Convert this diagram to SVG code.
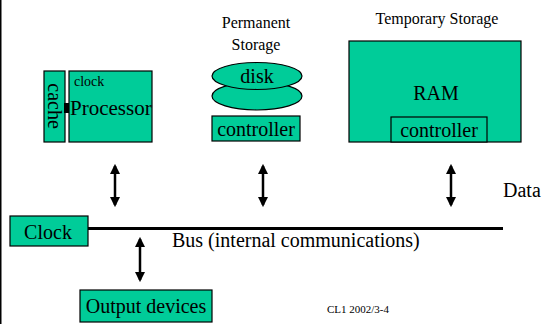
<svg xmlns="http://www.w3.org/2000/svg" width="544" height="324" viewBox="0 0 544 324">
<defs>
<style>
.box{fill:#00cc99;stroke:#000;stroke-width:1.2}
.t{font-family:"Liberation Serif","Times New Roman",serif;fill:#000}
.big{font-size:20px}
.sm{font-size:16px}
.conn{stroke:#000;stroke-width:2.5;fill:none}
</style>
<marker id="ah" viewBox="0 0 10 10" refX="8" refY="5" markerWidth="4.2" markerHeight="4.2" orient="auto-start-reverse">
<path d="M0,0 L10,5 L0,10 z" fill="#000"/>
</marker>
</defs>
<rect width="544" height="324" fill="#fff"/>
<line x1="0.75" y1="0" x2="0.75" y2="324" stroke="#000" stroke-width="1.5"/>
<g id="cache">
<rect class="box" x="44" y="71" width="21" height="71"/>
<text class="t big" transform="translate(48,106) rotate(90)" text-anchor="middle">cache</text>
</g>
<rect x="64" y="103" width="5" height="10" fill="#000"/>
<g id="processor">
<rect class="box" x="69" y="71" width="83" height="71"/>
<text class="t" x="74" y="86" font-size="14">clock</text>
<text class="t big" x="70" y="115" font-size="21px" style="font-size:21px">Processor</text>
</g>
<g id="permanent-storage">
<text class="t sm" x="256" y="28" text-anchor="middle">Permanent</text>
<text class="t sm" x="256" y="50" text-anchor="middle">Storage</text>
<ellipse class="box" cx="257" cy="96" rx="45" ry="14"/>
<ellipse class="box" cx="257" cy="76" rx="45" ry="13.5"/>
<text class="t big" x="257" y="83" text-anchor="middle">disk</text>
<rect class="box" x="212" y="116" width="88" height="25"/>
<text class="t big" x="256" y="136" text-anchor="middle">controller</text>
</g>
<g id="temporary-storage">
<text class="t sm" x="437" y="24" text-anchor="middle">Temporary Storage</text>
<rect class="box" x="349" y="41" width="172" height="101"/>
<text class="t big" x="436" y="100" text-anchor="middle">RAM</text>
<rect class="box" x="391" y="117" width="96" height="25"/>
<text class="t big" x="439" y="137" text-anchor="middle">controller</text>
</g>
<g id="clock">
<rect class="box" x="10" y="216" width="78" height="30"/>
<text class="t big" x="48" y="239" text-anchor="middle">Clock</text>
</g>
<g id="output-devices">
<rect class="box" x="80" y="290" width="132" height="32"/>
<text class="t big" x="146" y="313" text-anchor="middle">Output devices</text>
</g>
<g id="connectors">
<line x1="88" y1="228.5" x2="503" y2="228.5" stroke="#000" stroke-width="3"/>
<line class="conn" x1="115" y1="166" x2="115" y2="205" marker-start="url(#ah)" marker-end="url(#ah)"/>
<line class="conn" x1="263" y1="166" x2="263" y2="205" marker-start="url(#ah)" marker-end="url(#ah)"/>
<line class="conn" x1="451" y1="166" x2="451" y2="205" marker-start="url(#ah)" marker-end="url(#ah)"/>
<line class="conn" x1="140" y1="239" x2="140" y2="280" marker-start="url(#ah)" marker-end="url(#ah)"/>
</g>
<text class="t big" x="172" y="247">Bus (internal communications)</text>
<text class="t big" x="503" y="197">Data</text>
<text class="t" x="327" y="313" font-size="11">CL1 2002/3-4</text>
</svg>
